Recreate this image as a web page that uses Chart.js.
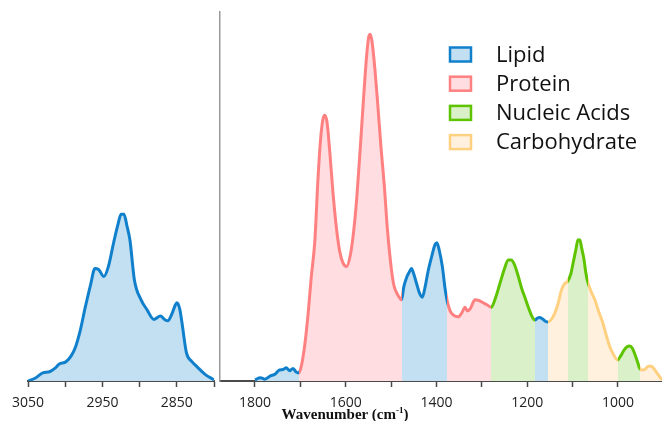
<!DOCTYPE html>
<html>
<head>
<meta charset="utf-8">
<title>FTIR spectrum</title>
<script src="https://cdn.jsdelivr.net/npm/chart.js@4.4.1/dist/chart.umd.min.js"></script>
<style>
  html, body { margin: 0; padding: 0; background: #fff; overflow: hidden; }
  #wrap { position: relative; width: 662px; height: 421px; }
  #chBox { position: absolute; left: 0; top: 0; }
  #fpBox { position: absolute; left: 219px; top: 0; }
  #xTitle {
    position: absolute; left: 245px; top: 407px; width: 200px;
    text-align: center; font: bold 15px "Liberation Serif", serif; line-height: 15px; color: #111;
  }
  #xTitle sup { font-size: 9px; line-height: 0; }
</style>
</head>
<body>
<div id="wrap">
  <div id="chBox"><canvas id="chChart" width="222" height="421"></canvas></div>
  <div id="fpBox"><canvas id="fpChart" width="443" height="421"></canvas></div>
  <div id="xTitle">Wavenumber (cm<sup>-1</sup>)</div>
</div>
<script>
// C-H stretch region (lipid)
const chWavenumber = [3050, 3040, 3030, 3021, 3014, 3008, 2999, 2992, 2986, 2980, 2973, 2966, 2960, 2955, 2948,
  2942, 2935, 2929, 2925, 2921, 2917, 2913, 2907, 2898, 2890, 2881, 2872, 2866, 2862, 2857, 2852, 2850, 2846,
  2843, 2837, 2830, 2823, 2812, 2800];
const chIntensity = [0, 0.8, 2.2, 2.5, 3.4, 4.6, 5.2, 6.8, 9.3, 13.5, 20, 26, 30.5, 30.2, 28.3,
  31, 37.4, 42.5, 45.2, 45.2, 42, 38.2, 27.4, 22, 19.3, 16.7, 17.6, 16.6, 16.3, 18, 20.6, 21.2, 19.5,
  15.7, 7.6, 5.3, 3.9, 1.8, 0.3];

// fingerprint region
const fpWavenumber = [
  1800, 1788, 1778, 1766, 1756, 1746, 1738, 1731, 1724, 1716, 1709, 1703,
  1697, 1690, 1683, 1676, 1668, 1661, 1655, 1650, 1646, 1641, 1635, 1628, 1620, 1613, 1606, 1598, 1590, 1583,
  1576, 1568, 1561, 1554, 1549, 1546, 1542, 1536, 1530, 1522, 1515, 1508, 1500, 1494, 1486, 1477,
  1472, 1466, 1460, 1455, 1450, 1444, 1438, 1431, 1425, 1418, 1410, 1403, 1399, 1394, 1387, 1381, 1376,
  1370, 1362, 1352, 1344, 1337, 1332, 1326, 1315, 1306, 1297, 1288, 1279,
  1270, 1260, 1250, 1242, 1235, 1228, 1220, 1212, 1205, 1197, 1190, 1183,
  1178, 1173, 1166, 1160, 1155,
  1148, 1140, 1132, 1125, 1118, 1111,
  1104, 1099, 1093, 1088, 1084, 1080, 1075, 1071, 1067,
  1060, 1051, 1043, 1033, 1025, 1018, 1010, 1001,
  994, 987, 980, 974, 968, 963, 957, 952,
  946, 940, 933, 926, 920, 913, 906, 903];
const fpIntensity = [
  0.3, 0.9, 0.5, 1.4, 1.8, 3.0, 3.1, 3.6, 2.8, 3.4, 2.4, 2.2,
  4.5, 10, 18, 28, 38, 55, 66, 71, 72, 70, 62, 51, 41, 35, 32, 31, 34, 40,
  49, 63, 76, 88, 93.5, 94, 92, 85, 76, 63, 53, 41, 31, 26, 23.5, 22,
  25.5, 28, 29.5, 30.5, 29, 26.5, 24, 22.7, 25.5, 30, 34, 37, 37.5, 35.5, 31, 25, 21.5,
  19, 17.8, 17.4, 18.5, 20, 19, 19.5, 22, 21.8, 21.2, 20.6, 20,
  22.5, 26.5, 30.5, 32.8, 32.8, 31.5, 28.5, 25, 22.6, 19.8, 17.6, 16.5,
  17.0, 17.2, 16.8, 16.2, 16,
  16.5, 18.2, 21, 24.5, 26.3, 27,
  29, 31.9, 35.5, 38.3, 38.2, 36, 33, 29.5, 27,
  24.5, 22, 19, 15.6, 12, 9.3, 7.2, 5.7,
  6.8, 8.3, 9.3, 9.5, 8.8, 7.3, 5.2, 3.4,
  3.0, 3.2, 4.0, 4.0, 3.2, 2.0, 0.8, 0.3];

// band assignments: edges (high -> low) and the group of each band
const bandEdges = [1800, 1703, 1477, 1376, 1279, 1183, 1155, 1111, 1067, 1001, 952, 903];
const bandGroup = ["Lipid", "Protein", "Lipid", "Protein", "Nucleic Acids", "Lipid",
  "Carbohydrate", "Nucleic Acids", "Carbohydrate", "Nucleic Acids", "Carbohydrate"];

const groupNames = ["Lipid", "Protein", "Nucleic Acids", "Carbohydrate"];

// axis ticks
const chTicks = [3050, 3000, 2950, 2900, 2850, 2800];
const chTickLabels = ["3050", "", "2950", "", "2850", ""];
const fpTicks = [1800, 1700, 1600, 1500, 1400, 1300, 1200, 1100, 1000];
const fpTickLabels = ["1800", "", "1600", "", "1400", "", "1200", "", "1000"];

const groupColors = {
  "Lipid": { line: "#1180cc", fill: "#c2e0f1" },
  "Protein": { line: "#ff8080", fill: "#ffdde0" },
  "Nucleic Acids": { line: "#5fc400", fill: "#d9f0c9" },
  "Carbohydrate": { line: "#ffd080", fill: "#fff1de" }
};

// horizontal gradient with hard stops at every band edge
function bandGradient(chart, key) {
  const area = chart.chartArea;
  const x = chart.scales.x;
  if (!area || !x) return groupColors.Protein[key];
  const g = chart.ctx.createLinearGradient(area.left, 0, area.right, 0);
  const w = area.right - area.left;
  const pos = v => Math.min(1, Math.max(0, (x.getPixelForValue(v) - area.left) / w));
  bandGroup.forEach((group, i) => {
    const c = groupColors[group][key];
    g.addColorStop(pos(bandEdges[i]), c);
    g.addColorStop(pos(bandEdges[i + 1]), c);
  });
  return g;
}

document.addEventListener("DOMContentLoaded", () => {
  const tickFont = { family: "'Open Sans'", size: 14 };

  const makeX = (min, max, ticks, labels) => ({
    type: "linear",
    reverse: true,
    min: min,
    max: max,
    afterBuildTicks: axis => { axis.ticks = ticks.map(v => ({ value: v })); },
    afterFit: axis => { axis.height = 40; },
    border: { display: true, color: "#4a4a4a", width: 2 },
    grid: { display: true, drawOnChartArea: false, drawTicks: true, tickLength: 6, tickColor: "#4a4a4a", tickWidth: 1.5 },
    ticks: {
      autoSkip: false,
      maxRotation: 0,
      color: "#222",
      font: tickFont,
      padding: 8,
      callback: value => labels[ticks.indexOf(value)] || ""
    }
  });

  const baseOptions = {
    responsive: false,
    animation: false,
    plugins: {
      legend: { display: false },
      tooltip: { enabled: false },
      filler: { drawTime: "beforeDatasetsDraw" }
    }
  };

  // ------------------ C-H region ------------------
  new Chart(document.getElementById("chChart"), {
    type: "line",
    data: {
      datasets: [{
        label: "Lipid",
        data: chWavenumber.map((w, i) => ({ x: w, y: chIntensity[i] })),
        borderColor: groupColors.Lipid.line,
        backgroundColor: groupColors.Lipid.fill,
        borderWidth: 3,
        pointRadius: 0,
        fill: "origin",
        cubicInterpolationMode: "monotone"
      }]
    },
    options: {
      ...baseOptions,
      layout: { padding: { top: 12, bottom: 0, left: 28, right: 3 } },
      scales: {
        x: makeX(2800, 3050, chTicks, chTickLabels),
        y: { min: 0, max: 100, display: false }
      }
    }
  });

  // ------------------ fingerprint region ------------------
  // legend drawn as a column in the top right corner
  const groupLegend = {
    id: "groupLegend",
    afterDraw(chart) {
      const ctx = chart.ctx;
      ctx.save();
      groupNames.forEach((name, i) => {
        const cy = 54.5 + i * 29.2;
        ctx.fillStyle = groupColors[name].fill;
        ctx.fillRect(231, cy - 7, 21, 14);
        ctx.strokeStyle = groupColors[name].line;
        ctx.lineWidth = 2.5;
        ctx.strokeRect(231, cy - 7, 21, 14);
        ctx.fillStyle = "#111";
        ctx.font = "22px 'Open Sans'";
        ctx.textBaseline = "alphabetic";
        ctx.textAlign = "left";
        ctx.fillText(name, 277, cy + 7.3);
      });
      ctx.restore();
    }
  };

  new Chart(document.getElementById("fpChart"), {
    type: "line",
    data: {
      datasets: [{
        label: "Fingerprint",
        data: fpWavenumber.map((w, i) => ({ x: w, y: fpIntensity[i] })),
        borderColor: ctx => bandGradient(ctx.chart, "line"),
        backgroundColor: ctx => bandGradient(ctx.chart, "fill"),
        borderWidth: 3,
        pointRadius: 0,
        fill: "origin",
        cubicInterpolationMode: "monotone"
      }]
    },
    options: {
      ...baseOptions,
      layout: { padding: { top: 12, bottom: 0, left: 0, right: 0 } },
      scales: {
        x: makeX(903, 1877, fpTicks, fpTickLabels),
        y: {
          min: 0,
          max: 100,
          afterFit: axis => { axis.width = 1; },
          border: { display: true, color: "#999", width: 1.5 },
          grid: { display: false },
          ticks: { display: false }
        }
      }
    },
    plugins: [groupLegend]
  });
});
</script>
</body>
</html>
